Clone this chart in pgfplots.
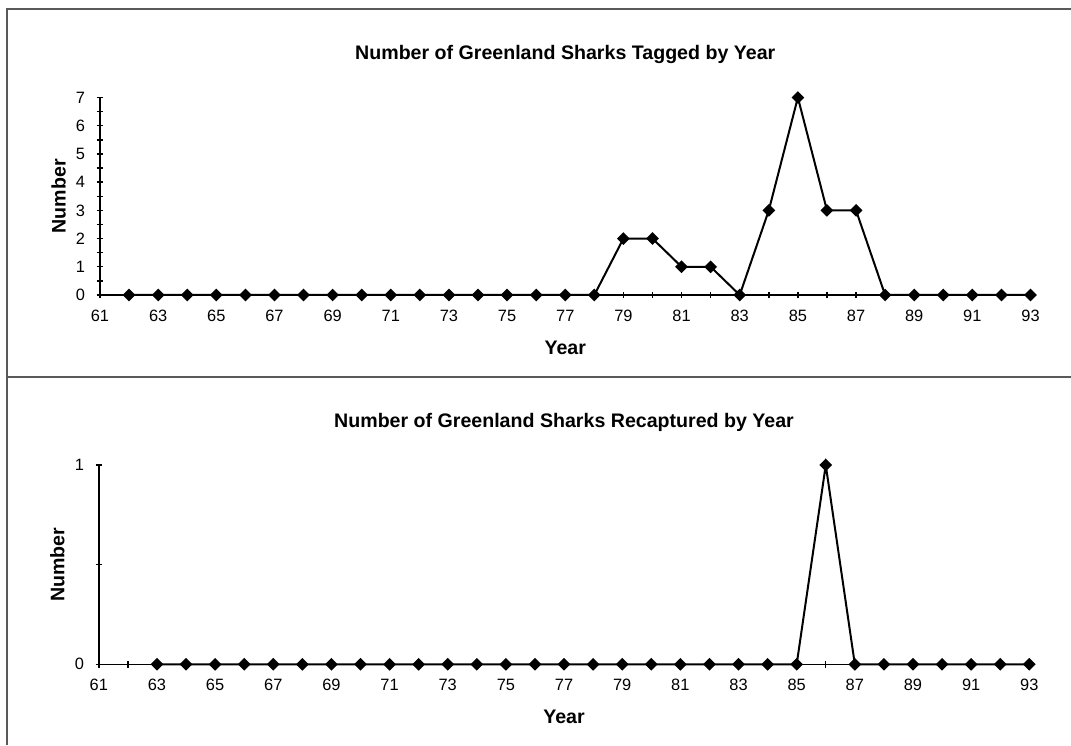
\documentclass[border=0pt]{standalone}
\usepackage{pgfplots}
\pgfplotsset{compat=1.18}
\usepackage{fontspec}
\setmainfont{Liberation Sans}
\newcommand{\tickfont}{\fontsize{8.2}{9}\selectfont}
\begin{document}
\begin{tikzpicture}
\path[use as bounding box] (0,0) rectangle (535.5pt,372.5pt);
\draw[gray!70!black, line width=0.6pt] (3.5pt,0) -- (3.5pt,368pt) -- (535.5pt,368pt);
\draw[gray!70!black, line width=0.6pt] (3.5pt,184pt) -- (535.5pt,184pt);
\pgfplotsset{
  sharkline/.style={black, line width=1pt, mark=square*, mark size=1.75pt, mark options={rotate=45, solid, fill=black}},
  sharkstyle/.style={
    scale only axis,
    width=465.25pt,
    xmin=61, xmax=93,
    axis x line=bottom, axis y line=left,
    axis line style={-, line width=0.75pt, black},
    xtick={61,63,...,93},
    xticklabels={\tickfont 61,\tickfont 63,\tickfont 65,\tickfont 67,\tickfont 69,\tickfont 71,\tickfont 73,\tickfont 75,\tickfont 77,\tickfont 79,\tickfont 81,\tickfont 83,\tickfont 85,\tickfont 87,\tickfont 89,\tickfont 91,\tickfont 93},
    minor xtick={62,64,...,92},
    tick align=center,
    major tick length=3.3pt,
    minor tick length=3.3pt,
    every tick/.style={black, line width=0.7pt},
    xticklabel style={anchor=north, text height=6pt, text depth=0pt, inner sep=0pt, yshift=-5.2pt},
    yticklabel style={anchor=east, inner sep=0pt, xshift=-5.6pt},
    clip=false,
    title style={at={(axis description cs:0.5,1)}, anchor=base, yshift=13pt, font=\fontsize{9.8}{11}\selectfont\bfseries},
    xlabel style={at={(axis description cs:0.5,0)}, anchor=base, yshift=-29.5pt, font=\fontsize{9.8}{11}\selectfont\bfseries},
    ylabel style={at={(axis description cs:0,0.5)}, anchor=base, yshift=17.2pt, font=\fontsize{9.8}{11}\selectfont\bfseries},
    xlabel={Year}, ylabel={Number},
  }
}
\begin{axis}[sharkstyle,
  at={(50pt,225pt)}, anchor=south west,
  height=98.75pt,
  ymin=0, ymax=7,
  ytick={0,1,...,7},
  yticklabels={\tickfont 0,\tickfont 1,\tickfont 2,\tickfont 3,\tickfont 4,\tickfont 5,\tickfont 6,\tickfont 7},
  minor ytick={0.5,1.5,...,6.5},
  title={Number of Greenland Sharks Tagged by Year},
]
\addplot[sharkline] coordinates {
(62,0)(63,0)(64,0)(65,0)(66,0)(67,0)(68,0)(69,0)(70,0)(71,0)(72,0)(73,0)(74,0)(75,0)(76,0)(77,0)(78,0)
(79,2)(80,2)(81,1)(82,1)(83,0)(84,3)(85,7)(86,3)(87,3)(88,0)(89,0)(90,0)(91,0)(92,0)(93,0)
};
\end{axis}
\begin{axis}[sharkstyle,
  at={(49.4pt,40.35pt)}, anchor=south west,
  height=99.6pt,
  ymin=0, ymax=1,
  ytick={0,1},
  yticklabels={\tickfont 0,\tickfont 1},
  minor ytick={0.5},
  title={Number of Greenland Sharks Recaptured by Year},
]
\addplot[sharkline] coordinates {
(63,0)(64,0)(65,0)(66,0)(67,0)(68,0)(69,0)(70,0)(71,0)(72,0)(73,0)(74,0)(75,0)(76,0)(77,0)(78,0)
(79,0)(80,0)(81,0)(82,0)(83,0)(84,0)(85,0)(86,1)(87,0)(88,0)(89,0)(90,0)(91,0)(92,0)(93,0)
};
\end{axis}
\end{tikzpicture}
\end{document}
